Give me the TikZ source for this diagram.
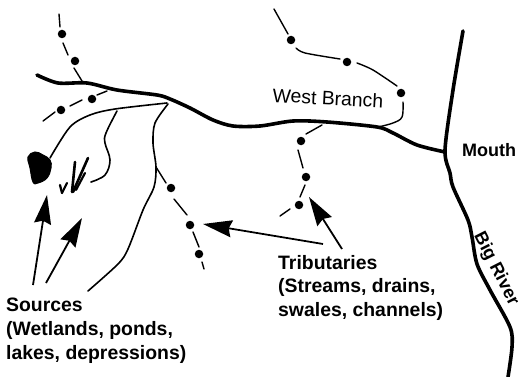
\documentclass[tikz,border=0pt]{standalone}
\usepackage{fontspec}
\setmainfont{Liberation Sans}
\usetikzlibrary{arrows.meta}
\tikzset{
  river/.style={line width=3.6pt,line cap=round,line join=round},
  creek/.style={line width=1.6pt,line cap=round},
  gap/.style={line width=1.4pt,line cap=round},
  pit/.style={circle,fill=black,inner sep=0pt,minimum size=8.5pt},
  pointer/.style={line width=1.8pt,-{Stealth[length=29pt,width=17pt,inset=3pt]}},
  lbl/.style={inner sep=0pt,font=\fontsize{19.4}{23.7}\selectfont\bfseries,align=left,anchor=north west},
}
\begin{document}
\begin{tikzpicture}[x=1pt,y=-1pt]
\useasboundingbox (0,0) rectangle (519,377);
% main stems
\draw[river] plot[smooth,tension=0.5] coordinates {(37,75) (58,83) (87,83) (117,90) (157,95) (170,99) (190,108) (213,120) (233,126) (260,126) (293,121) (327,122) (377,127) (393,133) (417,145) (445,152)};
\draw[river] plot[smooth,tension=0.5] coordinates {(463,31) (453,90) (445,150) (450,173) (453,187) (468,220) (472,237) (477,264) (490,290) (510,327) (512,347) (508,377)};
% pond and marsh
\fill[draw=black,line width=1pt] plot[smooth cycle,tension=0.7] coordinates {(35,152) (28,157) (30,168) (33,182) (38,183) (47,178) (51,168) (50,160) (43,155)};
\draw[line width=2.6pt,line cap=round] (75,162)--(72,192);
\draw[line width=2.6pt,line cap=round] (88,158)--(73,192);
\draw[line width=2.2pt,line cap=round] (85,173)--(76,190);
\draw[line width=2.2pt,line cap=round] (60,185)--(62,193);
\draw[line width=2.2pt,line cap=round] (67,183)--(62,193);
% solid headwaters
\draw[creek] plot[smooth,tension=0.5] coordinates {(167,103) (115,109) (90,115) (70,127) (50,158)};
\draw[creek] plot[smooth,tension=0.6] coordinates {(117,111) (106,133) (105,143) (110,160) (105,175) (91,182)};
\draw[creek] plot[smooth,tension=0.5] coordinates {(168,104) (155,123) (153,143) (156,167) (154,187) (143,210) (128,249) (118,264) (88,291)};
% dashed tributaries
\draw[gap] (59,14)--(60,27);
\node[pit] (topA) at (62,34) {};
\draw[gap] (63,43)--(68,55);
\node[pit] (topB) at (75,61) {};
\draw[gap] (74,68)--(82,81);
\draw[gap] (107,91)--(97,95);
\node[pit] (midA) at (92,99) {};
\draw[gap] (82,100)--(70,106);
\node[pit] (midB) at (61,110) {};
\draw[gap] (55,112)--(43,121);
\draw[gap] (156,167)--(166,183);
\node[pit] (lowA) at (171,188) {};
\draw[gap] (174,199)--(187,215);
\node[pit] (lowB) at (190,225) {};
\draw[gap] (193,232)--(199,247);
\node[pit] (lowC) at (199,254) {};
\draw[gap] (202,262)--(204,269);
\draw[gap] (274,9)--(288,34);
\node[pit] (westA) at (291,40) {};
\draw[gap] plot[smooth,tension=0.5] coordinates {(296,48) (305,53) (340,59)};
\node[pit] (westB) at (347,62) {};
\draw[gap] plot[smooth,tension=0.5] coordinates {(357,63) (373,70) (397,86)};
\node[pit] (westC) at (401,93) {};
\draw[gap] plot[smooth,tension=0.6] coordinates {(403,102) (402,117) (393,123) (378,127)};
\draw[gap] (322,125)--(306,134);
\node[pit] (eastA) at (301,141) {};
\draw[gap] (298,150)--(303,168);
\node[pit] (eastB) at (306,177) {};
\draw[gap] (305,185)--(300,197);
\node[pit] (eastC) at (299,205) {};
\draw[gap] (290,209)--(280,216);
% labels
\node[inner sep=0pt,rotate=-3,font=\fontsize{19.4}{22}\selectfont] (west) at (328,98) {West Branch};
\node[lbl,font=\fontsize{18}{22}\selectfont\bfseries] (mouth) at (462,143) {Mouth};
\node[inner sep=0pt,rotate=-63,font=\fontsize{18}{22}\selectfont\bfseries] (big) at (496,269) {Big River};
\node[lbl] (sources) at (6,298) {Sources\\(Wetlands, ponds,\\lakes, depressions)};
\node[lbl] (tribs) at (278,255) {Tributaries\\(Streams, drains,\\swales, channels)};
% arrows
\coordinate (srcA) at (33,285);
\coordinate (srcB) at (46,283);
\coordinate (tribA) at (323,244);
\coordinate (tribB) at (342,249);
\draw[pointer] (srcA)--(47,195);
\draw[pointer] (srcB)--(82,218);
\draw[pointer] (tribA)--(203,224);
\draw[pointer] (tribB)--(309,197);
\end{tikzpicture}
\end{document}
